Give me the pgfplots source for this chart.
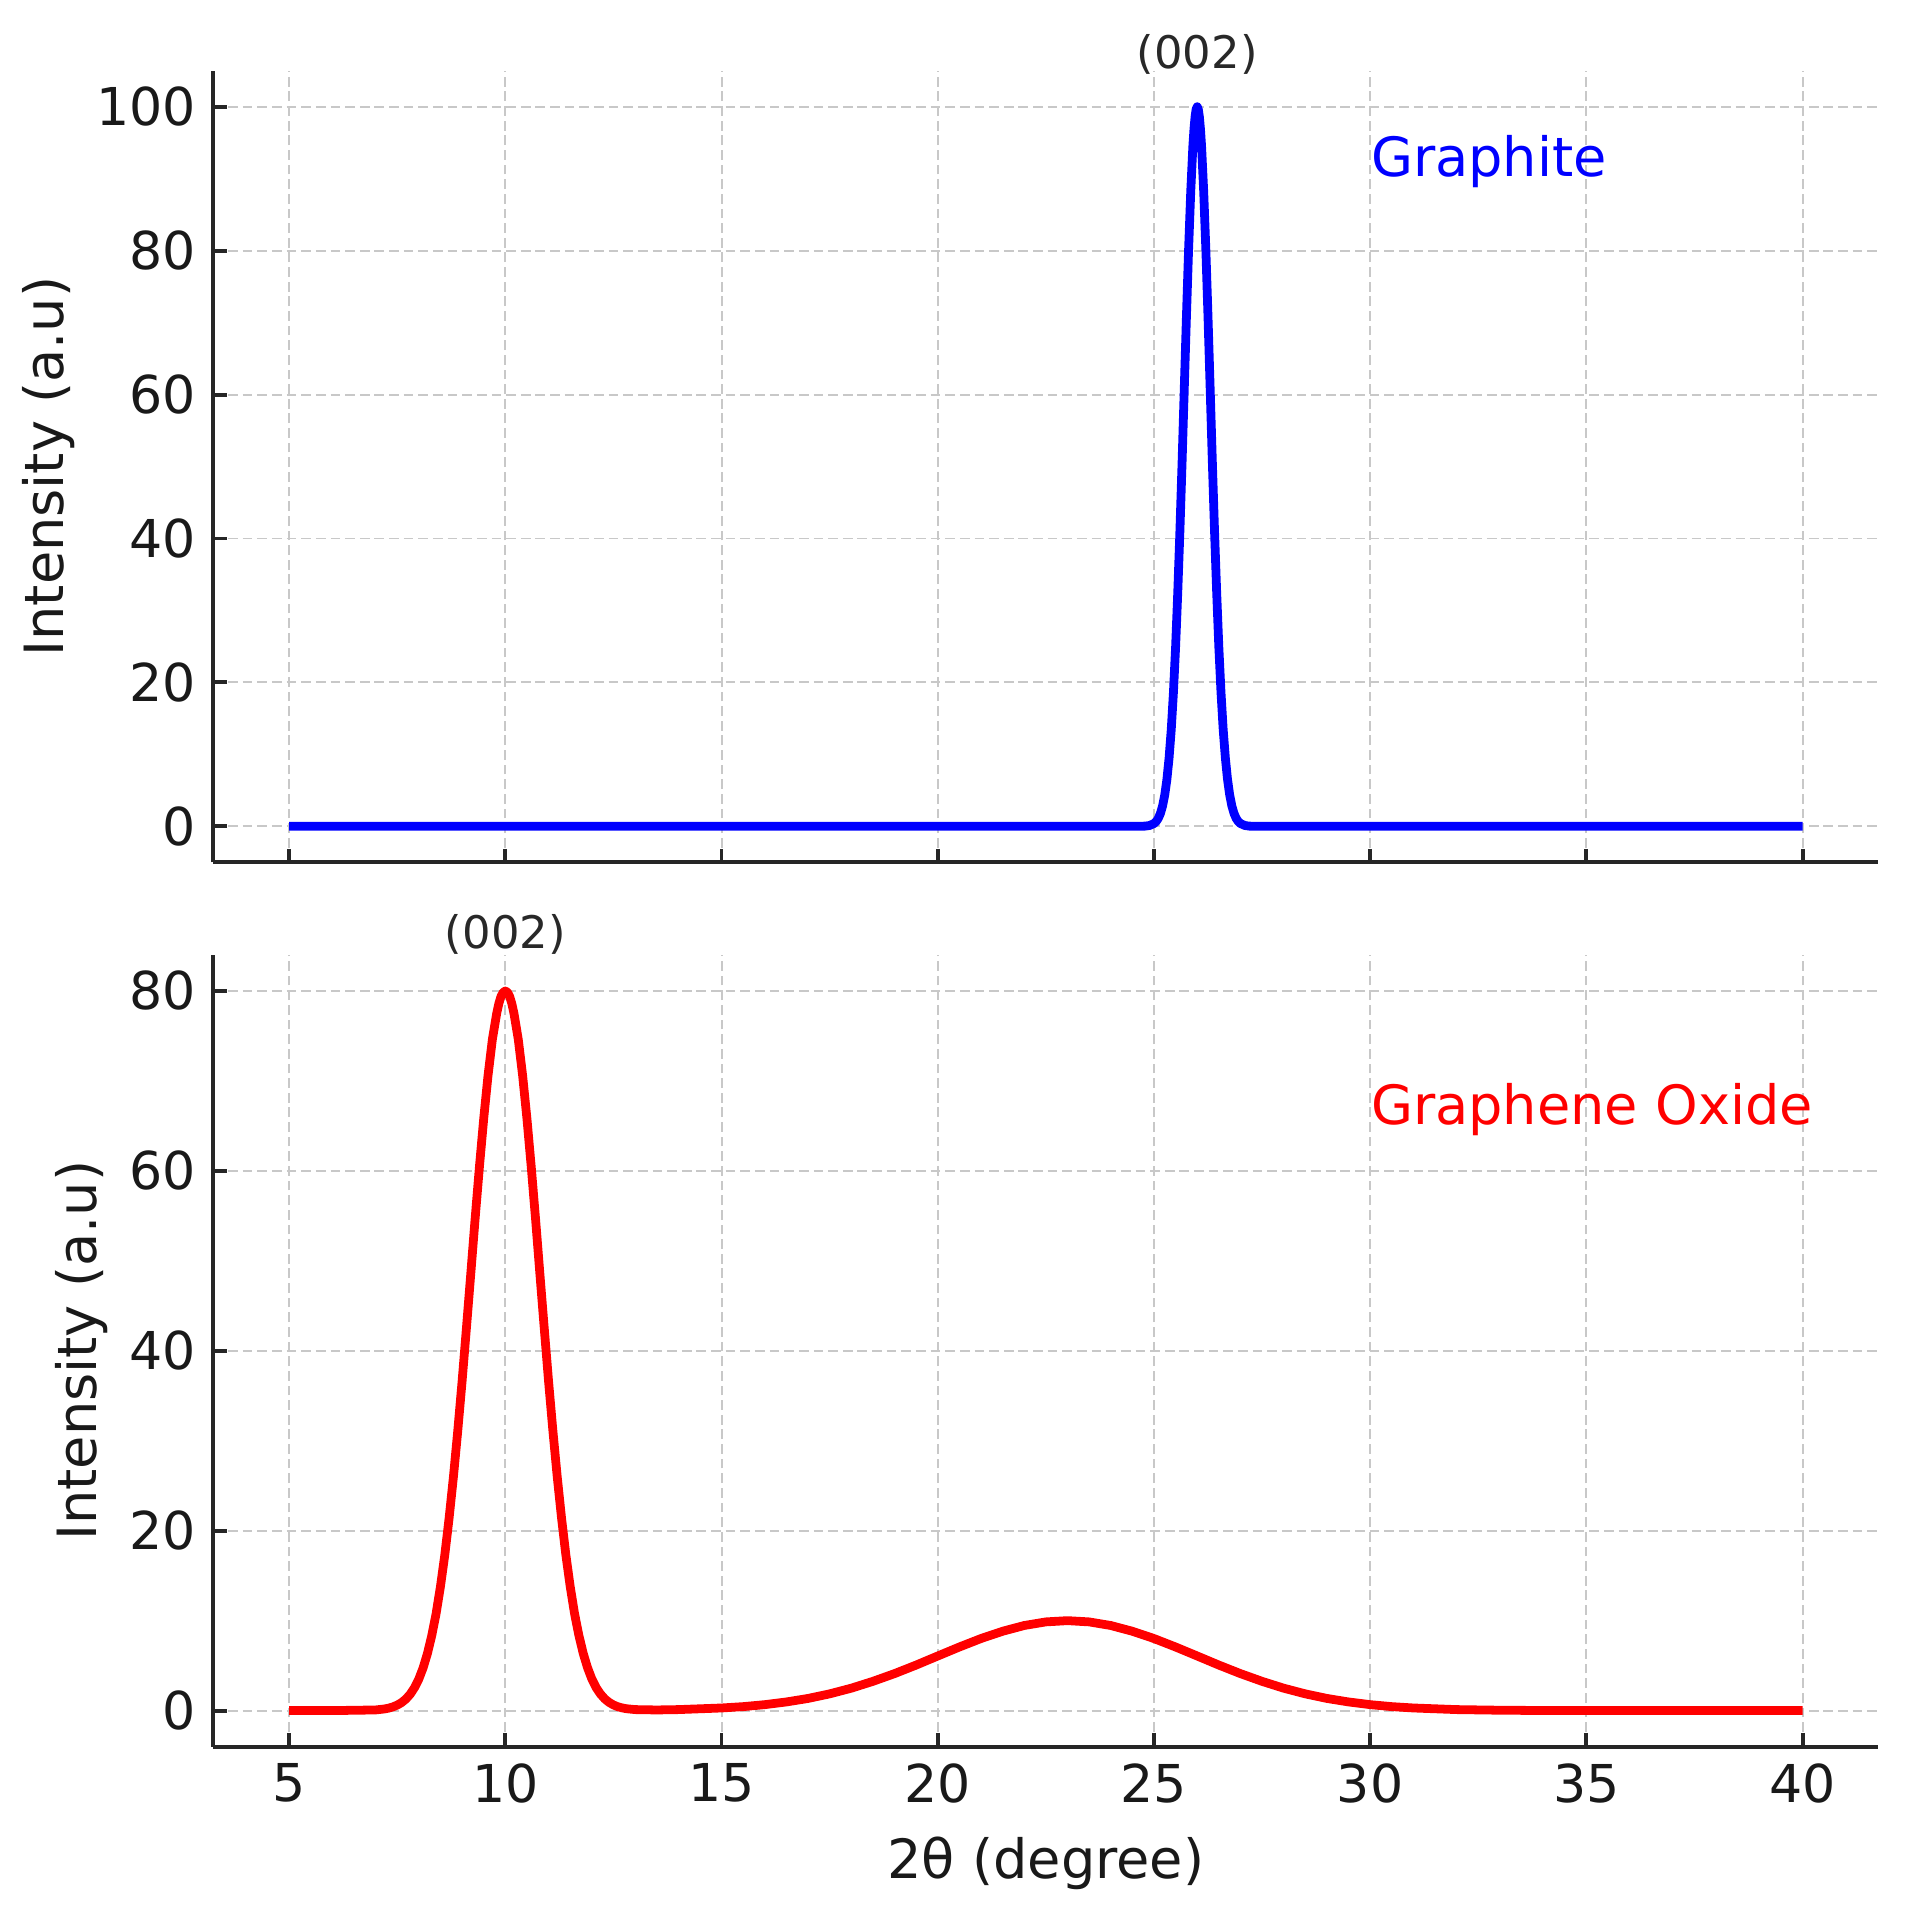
\documentclass[border=0pt]{standalone}
\usepackage{fontspec}
\setmainfont{DejaVu Sans}
\usepackage{pgfplots}
\pgfplotsset{compat=1.18}
\definecolor{gridc}{RGB}{200,200,200}
\definecolor{annc}{RGB}{40,40,40}
\pgfplotsset{
  xrdstyle/.style={
    scale only axis,
    width=341.25pt, height=162.25pt,
    axis lines=left,
    axis line style={-, line width=0.8pt, black!85},
    xmin=3.25, xmax=41.75,
    xtick={5,10,...,40},
    tick align=inside,
    major tick length=2.7pt,
    tick style={line width=0.8pt, black!85},
    grid=major,
    major grid style={gridc, line width=0.4pt, dash pattern=on 2pt off 1pt},
    /pgf/number format/assume math mode=true,
    ticklabel style={font=\fontsize{10.7}{12}\selectfont, text=black!90},
    label style={font=\fontsize{11.1}{13}\selectfont, text=black!90},
    ylabel={Intensity (a.u)},
    ylabel shift=-2.3pt,
    clip=false,
  }
}
\begin{document}
\begin{tikzpicture}
\useasboundingbox (-43.75pt,-214.75pt) rectangle (347.75pt,176.75pt);
\begin{axis}[xrdstyle, at={(0pt,0pt)}, anchor=south west,
  ymin=-5, ymax=105, ytick={0,20,...,100}, xticklabels={}]
\addplot[blue, line width=1.8pt, line join=round] coordinates {
(5,0) (24.5,0) (24.8,0.03) (24.9,0.12) (25.0,0.39) (25.05,0.66) (25.1,1.11) (25.15,1.81)
(25.2,2.86) (25.25,4.39) (25.3,6.57) (25.35,9.56) (25.4,13.5) (25.45,18.6) (25.5,24.9)
(25.55,32.5) (25.6,41.1) (25.65,50.6) (25.7,60.7) (25.75,70.7) (25.8,80.1) (25.85,88.2)
(25.9,94.6) (25.925,96.9) (25.95,98.6) (25.975,99.65) (26.0,100) (26.025,99.65) (26.05,98.6) (26.075,96.9) (26.1,94.6) (26.15,88.2) (26.2,80.1)
(26.25,70.7) (26.3,60.7) (26.35,50.6) (26.4,41.1) (26.45,32.5) (26.5,24.9) (26.55,18.6)
(26.6,13.5) (26.65,9.56) (26.7,6.57) (26.75,4.39) (26.8,2.86) (26.85,1.81) (26.9,1.11)
(26.95,0.66) (27.0,0.39) (27.1,0.12) (27.2,0.03) (27.5,0) (40,0)
};
\node[anchor=base, font=\fontsize{9.2}{10}\selectfont, text=annc] at (axis cs:26,105.3) {(002)};
\node[anchor=base west, inner sep=0pt, font=\fontsize{11.1}{13}\selectfont, text=blue] at (axis cs:30,90.3) {Graphite};
\end{axis}
\begin{axis}[xrdstyle, at={(0pt,-19pt)}, anchor=north west,
  ymin=-4, ymax=84, ytick={0,20,...,80},
  xlabel={2θ (degree)}]
\addplot[red, line width=1.8pt, line join=round] coordinates {
(5,0) (6,0) (7,0.07) (7.2,0.18) (7.3,0.27) (7.4,0.41) (7.5,0.61) (7.6,0.89) (7.7,1.28) (7.8,1.82) (7.9,2.55) (8.0,3.51) (8.1,4.77) (8.2,6.37)
(8.3,8.37) (8.4,10.8) (8.5,13.8) (8.6,17.3) (8.7,21.4) (8.8,26.0) (8.9,31.1) (9.0,36.6) (9.1,42.5) (9.2,48.5) (9.3,54.6) (9.4,60.4) (9.5,65.8) (9.6,70.6) (9.7,74.6) (9.8,77.5) (9.85,78.6) (9.9,79.4) (9.95,79.84)
(10.0,80) (10.05,79.84) (10.1,79.4) (10.15,78.6) (10.2,77.5) (10.3,74.6) (10.4,70.6) (10.5,65.8) (10.6,60.4) (10.7,54.6) (10.8,48.5) (10.9,42.5) (11.0,36.6) (11.1,31.1) (11.2,26.0) (11.3,21.4)
(11.4,17.3) (11.5,13.8) (11.6,10.8) (11.7,8.38) (11.8,6.38) (11.9,4.78) (12.0,3.52) (12.1,2.56) (12.2,1.84) (12.3,1.30) (12.4,0.91) (12.5,0.63) (12.6,0.43) (12.7,0.30)
(12.8,0.21) (13.0,0.11) (13.5,0.07) (14,0.11) (15,0.29) (15.5,0.44) (16,0.66) (16.5,0.96)
(17,1.35) (17.5,1.86) (18,2.49) (18.5,3.25) (19,4.11) (19.5,5.06) (20,6.07) (20.5,7.07)
(21,8.01) (21.5,8.82) (22,9.46) (22.5,9.86) (23,10) (23.5,9.86) (24,9.46) (24.5,8.82)
(25,8.01) (25.5,7.07) (26,6.07) (26.5,5.06) (27,4.11) (27.5,3.25) (28,2.49) (28.5,1.86)
(29,1.35) (29.5,0.96) (30,0.66) (30.5,0.44) (31,0.29) (32,0.11) (33,0.04) (34,0.01)
(35,0) (40,0)
};
\node[anchor=base, font=\fontsize{9.2}{10}\selectfont, text=annc] at (axis cs:10,84.7) {(002)};
\node[anchor=base west, inner sep=0pt, font=\fontsize{11.1}{13}\selectfont, text=red] at (axis cs:30,65.2) {Graphene Oxide};
\end{axis}
\end{tikzpicture}
\end{document}
